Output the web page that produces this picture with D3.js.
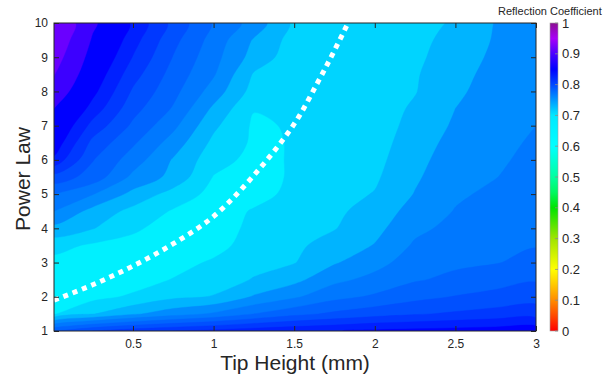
<!DOCTYPE html>
<html>
<head>
<meta charset="utf-8">
<script src="https://cdn.jsdelivr.net/npm/d3@7"></script>
<style>
  body { margin: 0; background: #fff; }
  svg { display: block; font-family: "Liberation Sans", Arial, Helvetica, sans-serif; }
</style>
</head>
<body>
<div id="chart"></div>
<script>
// grid of the contour map: columns = tip height (mm), rows = power law
var tipHeight = [0, 0.25, 0.5, 0.75, 1, 1.25, 1.5, 1.75, 2, 2.25, 2.5, 2.75, 3];
var powerLaw = [1, 1.5, 2, 2.5, 3, 3.5, 4, 4.5, 5, 5.5, 6, 6.5, 7, 7.5, 8, 8.5, 9, 9.5, 10];

// reflection coefficient, one row per power law value
var reflection = [
  [.760, .780, .792, .800, .806, .812, .816, .819, .824, .826, .828, .830, .834],
  [.658, .679, .697, .711, .723, .740, .754, .764, .772, .778, .783, .788, .791],
  [.648, .654, .663, .676, .681, .702, .717, .734, .743, .754, .761, .766, .772],
  [.650, .648, .651, .661, .672, .681, .694, .715, .726, .738, .745, .752, .758],
  [.654, .649, .647, .652, .663, .675, .679, .698, .713, .730, .736, .739, .746],
  [.667, .657, .654, .648, .652, .670, .676, .688, .701, .723, .731, .736, .739],
  [.694, .681, .663, .652, .648, .666, .673, .679, .694, .715, .726, .732, .736],
  [.721, .693, .674, .658, .649, .662, .670, .676, .688, .708, .721, .728, .734],
  [.741, .721, .694, .672, .654, .652, .666, .673, .681, .701, .717, .724, .731],
  [.772, .752, .715, .694, .659, .648, .664, .670, .677, .697, .714, .7195, .728],
  [.816, .761, .730, .698, .668, .654, .662, .668, .674, .694, .710, .717, .725],
  [.836, .774, .743, .711, .675, .657, .661, .667, .672, .690, .707, .714, .723],
  [.848, .793, .756, .725, .684, .657, .662, .666, .671, .686, .703, .712, .720],
  [.862, .812, .767, .738, .696, .661, .663, .665, .670, .683, .700, .709, .718],
  [.884, .826, .777, .746, .711, .672, .664, .665, .670, .679, .697, .707, .717],
  [.904, .836, .788, .752, .722, .678, .666, .666, .670, .678, .694, .706, .715],
  [.920, .846, .799, .759, .727, .692, .669, .667, .670, .676, .690, .704, .714],
  [.934, .856, .808, .766, .732, .698, .672, .668, .670, .675, .686, .702, .712],
  [.946, .866, .816, .774, .738, .712, .676, .670, .670, .674, .682, .701, .710]
];

// contour levels and the fill of the band above each level
var levels = [0.66, 0.68, 0.70, 0.72, 0.74, 0.76, 0.78, 0.80, 0.82, 0.86, 0.90];
var levelColors = ["#00d4ff", "#00b4ff", "#008cff", "#0078ff", "#0064ff", "#0050ff",
  "#0038ff", "#0020ff", "#0000ff", "#3c00ff", "#6a00ff"];
var baseColor = "#00f0ff";

// white dotted curve
var curveX = [0.01, 0.25, 0.5, 0.75, 1.0, 1.25, 1.5, 1.65, 1.75, 1.85];
var curveY = [1.9, 2.35, 2.9, 3.55, 4.35, 5.55, 7.05, 8.3, 9.2, 10.15];

var xTicks = [0.5, 1, 1.5, 2, 2.5, 3];
var yTicks = [1, 2, 3, 4, 5, 6, 7, 8, 9, 10];
var barTicks = [0, 0.1, 0.2, 0.3, 0.4, 0.5, 0.6, 0.7, 0.8, 0.9, 1];

// colorbar colormap
var barStops = [0, 0.05, 0.1, 0.15, 0.2, 0.3, 0.4, 0.45, 0.5, 0.6, 0.7, 0.75, 0.8, 0.85, 0.9, 0.95, 1];
var barColors = ["#ff0000", "#ff4a00", "#ff8c00", "#ffc800", "#ffff00", "#a0e400", "#00e400",
  "#00f860", "#00ffa0", "#00ffff", "#00e8ff", "#0098ff", "#0048ff", "#0000ff", "#4a00ff",
  "#a800f8", "#8a1090"];

var svgWidth = 608;
var svgHeight = 379;
var margin = { top: 23, right: 72, bottom: 48, left: 54 };
var chartWidth = svgWidth - margin.left - margin.right;
var chartHeight = svgHeight - margin.top - margin.bottom;

var svg = d3.select("#chart")
  .append("svg")
  .attr("width", svgWidth)
  .attr("height", svgHeight);

var chartGroup = svg.append("g")
  .attr("transform", `translate(${margin.left}, ${margin.top})`);

var xScale = d3.scaleLinear().domain([0.01, 3]).range([0, chartWidth]);
var yScale = d3.scaleLinear().domain([1, 10]).range([chartHeight, 0]);

svg.append("defs").append("clipPath")
  .attr("id", "plotClip")
  .append("rect")
  .attr("width", chartWidth)
  .attr("height", chartHeight);

var plot = chartGroup.append("g").attr("clip-path", "url(#plotClip)");

plot.append("rect")
  .attr("width", chartWidth)
  .attr("height", chartHeight)
  .attr("fill", baseColor);

// filled contours
var cols = tipHeight.length;
var rows = powerLaw.length;
var values = [].concat.apply([], reflection);
var xStep = tipHeight[1] - tipHeight[0];
var yStep = powerLaw[1] - powerLaw[0];

var bands = d3.contours().size([cols, rows]).thresholds(levels)(values);

// grid coords -> chart pixels, rings drawn as smooth closed curves
var ringLine = d3.line().curve(d3.curveCatmullRomClosed.alpha(0.5));
function bandPath(contour) {
  return contour.coordinates.map(function(polygon) {
    return polygon.map(function(ring) {
      var pts = ring.slice(0, -1).map(p => [
        xScale(tipHeight[0] + (p[0] - 0.5) * xStep),
        yScale(powerLaw[0] + (p[1] - 0.5) * yStep)
      ]);
      return ringLine(pts);
    }).join("");
  }).join("");
}

plot.selectAll("path.band")
  .data(bands)
  .enter()
  .append("path")
  .attr("class", "band")
  .attr("d", bandPath)
  .attr("fill", (d, i) => levelColors[i])
  .attr("stroke", (d, i) => levelColors[i])
  .attr("stroke-width", 0.4);

// dotted curve
var curvePoints = curveX.map((x, i) => [x, curveY[i]]);
plot.append("path")
  .datum(curvePoints)
  .attr("d", d3.line().x(d => xScale(d[0])).y(d => yScale(d[1])).curve(d3.curveCatmullRom))
  .attr("fill", "none")
  .attr("stroke", "#fff")
  .attr("stroke-width", 5)
  .attr("stroke-dasharray", "5,5");

// axes, ticks pointing inwards
var axisColor = "#262626";

var bottomAxis = d3.axisBottom(xScale).tickValues(xTicks).tickSize(-5).tickPadding(8)
  .tickFormat(d3.format("~g"));
var topAxis = d3.axisTop(xScale).tickValues(xTicks).tickSize(-5).tickFormat("");
var leftAxis = d3.axisLeft(yScale).tickValues(yTicks).tickSize(-5).tickPadding(6);
var rightAxis = d3.axisRight(yScale).tickValues(yTicks).tickSize(-5).tickFormat("");

chartGroup.append("g").attr("transform", `translate(0, ${chartHeight})`).call(bottomAxis);
chartGroup.append("g").call(topAxis);
chartGroup.append("g").call(leftAxis);
chartGroup.append("g").attr("transform", `translate(${chartWidth}, 0)`).call(rightAxis);

chartGroup.selectAll(".domain").remove();
chartGroup.selectAll(".tick line").attr("stroke", axisColor);
chartGroup.selectAll(".tick text")
  .attr("fill", axisColor)
  .style("font-size", "12px")
  .style("font-family", "'Liberation Sans', Arial, sans-serif");

chartGroup.append("rect")
  .attr("width", chartWidth)
  .attr("height", chartHeight)
  .attr("fill", "none")
  .attr("stroke", axisColor)
  .attr("stroke-width", 1);

// axis labels
svg.append("text")
  .attr("x", margin.left + chartWidth / 2)
  .attr("y", 370)
  .attr("text-anchor", "middle")
  .attr("fill", axisColor)
  .style("font-size", "21px")
  .text("Tip Height (mm)");

svg.append("text")
  .attr("transform", "rotate(-90)")
  .attr("x", -179)
  .attr("y", 30)
  .attr("text-anchor", "middle")
  .attr("fill", axisColor)
  .style("font-size", "21px")
  .text("Power Law");

// colorbar
var barX = 550;
var barW = 8;
var barScale = d3.scaleLinear().domain([0, 1]).range([margin.top + chartHeight, margin.top]);

var grad = svg.select("defs").append("linearGradient")
  .attr("id", "barGrad")
  .attr("x1", 0).attr("y1", 1).attr("x2", 0).attr("y2", 0);
grad.selectAll("stop")
  .data(barStops)
  .enter()
  .append("stop")
  .attr("offset", d => d)
  .attr("stop-color", (d, i) => barColors[i]);

svg.append("rect")
  .attr("x", barX)
  .attr("y", margin.top)
  .attr("width", barW)
  .attr("height", chartHeight)
  .attr("fill", "url(#barGrad)")
  .attr("stroke", "#a0a0a0")
  .attr("stroke-width", 0.6);

var barAxis = svg.append("g");
barAxis.selectAll("line")
  .data(barTicks)
  .enter()
  .append("line")
  .attr("x1", barX + barW - 3)
  .attr("x2", barX + barW)
  .attr("y1", d => barScale(d))
  .attr("y2", d => barScale(d))
  .attr("stroke", "#8a8a8a")
  .attr("stroke-width", 0.8);

barAxis.selectAll("text")
  .data(barTicks)
  .enter()
  .append("text")
  .attr("x", barX + barW + 4)
  .attr("y", d => barScale(d))
  .attr("dy", "0.36em")
  .attr("fill", axisColor)
  .style("font-size", "13px")
  .text(d => d3.format("~g")(d));

svg.append("text")
  .attr("x", 498)
  .attr("y", 15)
  .attr("fill", axisColor)
  .style("font-size", "11px")
  .text("Reflection Coefficient");
</script>
</body>
</html>
